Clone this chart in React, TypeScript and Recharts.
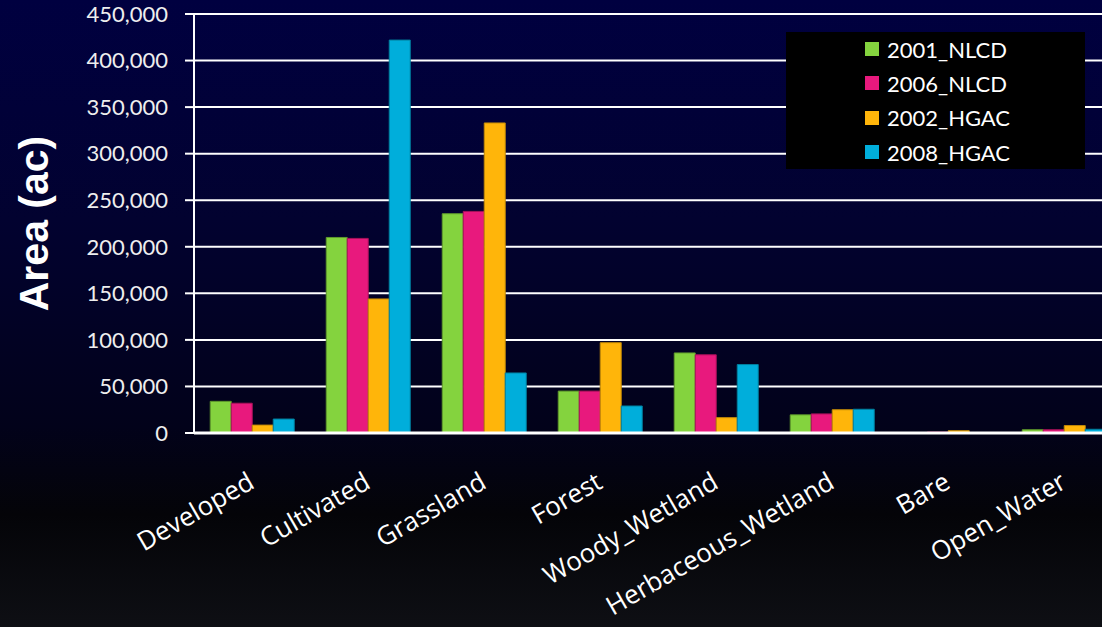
import React from "react";
import { BarChart, Bar, XAxis, YAxis, CartesianGrid } from "recharts";

const categories = ["Developed", "Cultivated", "Grassland", "Forest", "Woody_Wetland", "Herbaceous_Wetland", "Bare", "Open_Water"];
const nlcd2001 = [34000, 210000, 235500, 45000, 86000, 19500, 500, 3500];
const nlcd2006 = [32000, 209000, 238000, 45000, 84000, 20500, 1000, 3500];
const hgac2002 = [8500, 144000, 333000, 97000, 16500, 25000, 2500, 8000];
const hgac2008 = [15000, 422000, 64500, 29000, 73500, 25500, 500, 4000];
const yTicks = [0, 50000, 100000, 150000, 200000, 250000, 300000, 350000, 400000, 450000];

const seriesNames = ["2001_NLCD", "2006_NLCD", "2002_HGAC", "2008_HGAC"];
const seriesColors = ["#84d33e", "#e8197d", "#ffb50a", "#00aedb"];
const seriesEdges = ["#5f9a2c", "#a8125a", "#c08808", "#00809f"];

const data = categories.map((c, i) => ({
  name: c,
  "2001_NLCD": nlcd2001[i],
  "2006_NLCD": nlcd2006[i],
  "2002_HGAC": hgac2002[i],
  "2008_HGAC": hgac2008[i],
}));

const XTick = (props: any) => {
  const { x, y, payload } = props;
  return (
    <g transform={`translate(${x + 4},${y + 46})`}>
      <text
        transform="rotate(-30)"
        textAnchor="end"
        fill="#ffffff"
        fontFamily="'Open Sans', Lato, sans-serif"
        fontSize={26}
      >
        {payload.value}
      </text>
    </g>
  );
};

const LegendBox = () => (
  <div
    style={{
      position: "absolute",
      top: 32,
      left: 786,
      background: "#000",
      width: 299,
      height: 137,
      boxSizing: "border-box",
      paddingTop: 0,
      paddingLeft: 79,
    }}
  >
    {seriesNames.map((n, i) => (
      <div key={n} style={{ display: "flex", alignItems: "center", height: 34.3 }}>
        <div style={{ width: 14, height: 14, background: seriesColors[i], marginRight: 8 }} />
        <span style={{ color: "#fff", fontFamily: "Lato, 'Open Sans', sans-serif", fontSize: 22 }}>{n}</span>
      </div>
    ))}
  </div>
);

export default function App() {
  return (
    <div
      style={{
        position: "fixed",
        left: 0,
        top: 0,
        width: 1102,
        height: 627,
        overflow: "hidden",
        background:
          "linear-gradient(to bottom, #000040 0%, #020230 35%, #02021a 68%, #040408 82%, #0e0f14 100%)",
      }}
    >
      <BarChart
        width={1122}
        height={627}
        data={data}
        margin={{ top: 14, right: 0, left: 0, bottom: 44 }}
        barCategoryGap="14%"
        barGap={0}
      >
        <CartesianGrid vertical={false} stroke="#ffffff" strokeWidth={2} />
        <XAxis
          dataKey="name"
          height={150}
          interval={0}
          tick={<XTick />}
          axisLine={{ stroke: "#ffffff", strokeWidth: 3 }}
          tickLine={false}
        />
        <YAxis
          width={194}
          domain={[0, 450000]}
          ticks={yTicks}
          interval={0}
          tickFormatter={(v: number) => v.toLocaleString("en-US")}
          tick={{ fill: "#eeeeee", fontSize: 22, fontFamily: "Lato, 'Open Sans', sans-serif" }}
          axisLine={{ stroke: "#ffffff", strokeWidth: 2 }}
          tickLine={{ stroke: "#ffffff", strokeWidth: 2 }}
          tickSize={9}
          tickMargin={17}
          label={{
            value: "Area (ac)",
            angle: -90,
            position: "insideLeft",
            offset: 0,
            dx: 33,
            style: {
              fill: "#ffffff",
              fontSize: 41,
              fontWeight: "bold",
              fontFamily: "'Liberation Sans', Arial, sans-serif",
              textAnchor: "middle",
            },
          }}
        />
        {seriesNames.map((n, i) => (
          <Bar key={n} dataKey={n} fill={seriesColors[i]} stroke={seriesEdges[i]} strokeWidth={1} isAnimationActive={false} />
        ))}
      </BarChart>
      <LegendBox />
    </div>
  );
}
